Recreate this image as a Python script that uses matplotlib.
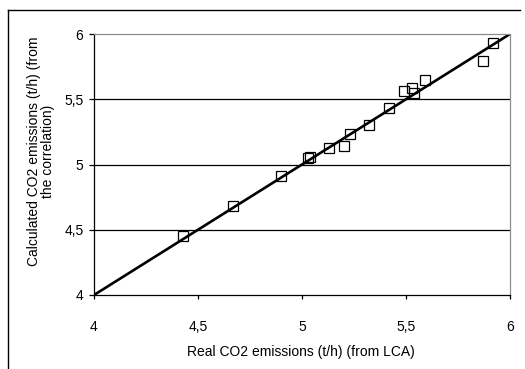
import matplotlib
matplotlib.use("Agg")
import matplotlib.pyplot as plt
from matplotlib.lines import Line2D
from matplotlib.ticker import FuncFormatter, MultipleLocator

# values
real_co2 = [4.43, 4.67, 4.90, 5.03, 5.04, 5.13, 5.20, 5.23, 5.32, 5.42,
            5.49, 5.53, 5.54, 5.59, 5.87, 5.92]
calc_co2 = [4.45, 4.68, 4.91, 5.05, 5.06, 5.13, 5.14, 5.23, 5.30, 5.43,
            5.56, 5.59, 5.55, 5.65, 5.79, 5.93]
line_x = [4, 6]
line_y = [4, 6]

plt.rcParams["font.family"] = ["Liberation Sans", "DejaVu Sans"]
plt.rcParams["font.size"] = 10

W, H = 525, 369
fig = plt.figure(figsize=(W / 100, H / 100), dpi=100)
ax = fig.add_axes([94 / W, 1 - 295 / H, 416 / W, 261 / H])

for yv in [4.5, 5.0, 5.5]:
    ax.axhline(yv, color="black", lw=0.9, zorder=1)

ax.plot(line_x, line_y, color="black", lw=1.9, zorder=2, solid_capstyle="butt")
ax.plot(real_co2, calc_co2, ls="none", marker="s", ms=6.6, mfc="none",
        mec="black", mew=0.9, zorder=3)

ax.set_xlim(4, 6)
ax.set_ylim(4, 6)
ax.xaxis.set_major_locator(MultipleLocator(0.5))
ax.yaxis.set_major_locator(MultipleLocator(0.5))
comma = FuncFormatter(lambda v, p: f"{v:g}".replace(".", ","))
ax.xaxis.set_major_formatter(comma)
ax.yaxis.set_major_formatter(comma)
ax.tick_params(axis="x", direction="out", length=3, width=0.9, pad=15)
ax.tick_params(axis="y", direction="out", length=3.6, width=0.9, pad=4)

for s in ["left", "bottom"]:
    ax.spines[s].set_color("black")
    ax.spines[s].set_linewidth(0.9)
for s in ["top", "right"]:
    ax.spines[s].set_color("#8c8c8c")
    ax.spines[s].set_linewidth(0.9)

fig.text(301 / W, 1 - 352 / H, "Real CO2 emissions (t/h) (from LCA)",
         ha="center", va="center")
fig.text(41 / W, 1 - 151 / H,
         "Calculated CO2 emissions (t/h) (from\nthe correlation)",
         ha="center", va="center", rotation=90, multialignment="center",
         linespacing=1.05)

# outer chart frame (left and top edges visible)
fig.add_artist(Line2D([8 / W, 8 / W], [0, 1 - 10 / H], color="black", lw=1.0,
                      transform=fig.transFigure))
fig.add_artist(Line2D([8 / W, 520 / W], [1 - 10 / H, 1 - 10 / H], color="black",
                      lw=1.0, transform=fig.transFigure))

fig.savefig("out.png", dpi=100)
